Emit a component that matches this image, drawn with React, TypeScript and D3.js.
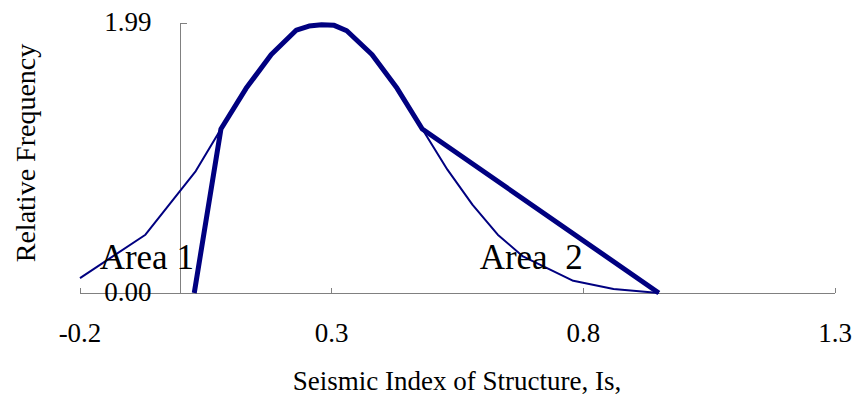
import React from "react";
import * as d3 from "d3";

// Normal-shaped frequency distribution of Is
const curveIs = [-0.2, -0.07, 0.03, 0.08, 0.13, 0.18, 0.23, 0.255, 0.28, 0.305, 0.33, 0.38, 0.43, 0.48, 0.53, 0.58, 0.63, 0.68, 0.78, 0.86, 0.95];
const curveFreq = [0.11, 0.43, 0.9, 1.21, 1.51, 1.76, 1.94, 1.97, 1.98, 1.975, 1.935, 1.76, 1.51, 1.21, 0.91, 0.65, 0.43, 0.27, 0.09, 0.03, 0.0];

// Truncated / modified distribution (bold outline)
const boldIs = [0.027, 0.08, 0.13, 0.18, 0.23, 0.255, 0.28, 0.305, 0.33, 0.38, 0.43, 0.48, 0.95];
const boldFreq = [0.0, 1.21, 1.51, 1.76, 1.94, 1.97, 1.98, 1.975, 1.935, 1.76, 1.51, 1.21, 0.0];

const xTicks = [-0.2, 0.3, 0.8, 1.3];
const xTickLabels = ["-0.2", "0.3", "0.8", "1.3"];
const yTicks = [0, 1.99];
const yTickLabels = ["0.00", "1.99"];

const areaLabels = [
  { text: "Area 1", x: -0.161, y: 0.175 },
  { text: "Area  2", x: 0.594, y: 0.175 },
];

const W = 855;
const H = 396;
const FONT = "'Liberation Serif', 'Times New Roman', serif";
const NAVY = "#000080";
const AXIS = "#808080";

export default function App() {
  const x = d3.scaleLinear().domain([-0.2, 1.3]).range([80, 835]);
  const y = d3.scaleLinear().domain([0, 1.99]).range([293, 23.3]);

  const line = d3
    .line<[number, number]>()
    .x((d) => x(d[0]))
    .y((d) => y(d[1]));

  const curvePts = curveIs.map((v, i) => [v, curveFreq[i]] as [number, number]);
  const boldPts = boldIs.map((v, i) => [v, boldFreq[i]] as [number, number]);

  const x0 = x(0);
  const yBase = y(0);

  return (
    <svg
      width={W}
      height={H}
      style={{ position: "absolute", left: 0, top: 0, background: "#fff" }}
      fontFamily={FONT}
    >
      <rect width={W} height={H} fill="#fff" />

      {/* x axis */}
      <g shapeRendering="crispEdges" stroke={AXIS} strokeWidth={1}>
        <line x1={x(-0.2)} x2={x(1.3)} y1={yBase} y2={yBase} />
        {xTicks.map((t) => (
          <line key={t} x1={x(t)} x2={x(t)} y1={yBase} y2={yBase - 5} />
        ))}
        {/* y axis at Is = 0 */}
        <line x1={x0} x2={x0} y1={y(1.99)} y2={yBase} />
        {yTicks.map((t) => (
          <line key={t} x1={x0} x2={x0 + 6} y1={y(t)} y2={y(t)} />
        ))}
      </g>

      {/* curves */}
      <path d={line(curvePts) || ""} fill="none" stroke={NAVY} strokeWidth={2} strokeLinejoin="round" />
      <path d={line(boldPts) || ""} fill="none" stroke={NAVY} strokeWidth={5} strokeLinejoin="round" />

      {/* tick labels */}
      {xTicks.map((t, i) => (
        <text key={t} x={x(t)} y={342} fontSize={27} textAnchor="middle" fill="#000">
          {xTickLabels[i]}
        </text>
      ))}
      {yTicks.map((t, i) => (
        <text key={t} x={151.5} y={y(t) + 8} fontSize={27} textAnchor="end" fill="#000">
          {yTickLabels[i]}
        </text>
      ))}

      {/* area labels */}
      {areaLabels.map((a) => (
        <text
          key={a.text}
          x={x(a.x)}
          y={y(a.y)}
          fontSize={35}
          fill="#000"
          style={{ whiteSpace: "pre" }}
        >
          {a.text}
        </text>
      ))}

      {/* axis titles */}
      <text x={457} y={390} fontSize={27} textAnchor="middle" fill="#000">
        Seismic Index of Structure, Is,
      </text>
      <text
        transform={`translate(35, 153) rotate(-90)`}
        fontSize={28}
        textAnchor="middle"
        fill="#000"
      >
        Relative Frequency
      </text>
    </svg>
  );
}
